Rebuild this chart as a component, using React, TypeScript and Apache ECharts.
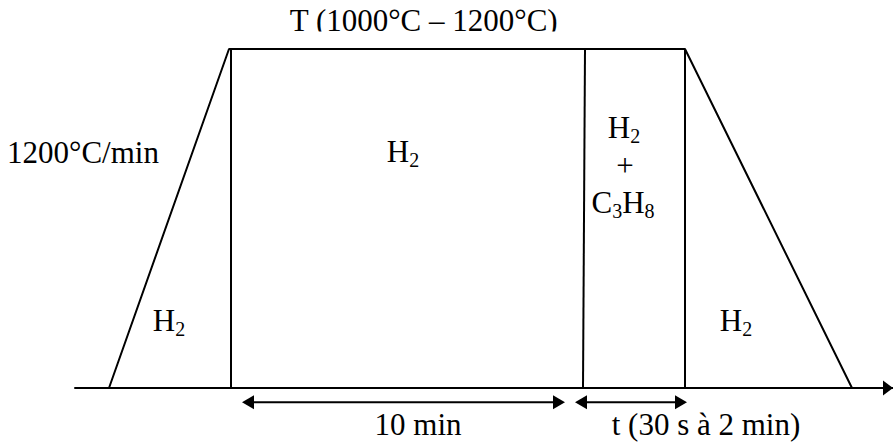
import React, { useEffect, useRef } from "react";
import * as echarts from "echarts";

// Temperature profile (time in arbitrary diagram units, temperature in °C)
const profileTime = [34, 154, 610, 777];
const profileTemp = [0, 1200, 1200, 0];
const plateauTemp = 1200;

// Stage boundaries (vertical lines)
const stageLineBottom = [156, 508, 610];
const stageLineTop = [156, 510, 610];

// Duration arrows
const dimStart = [167, 500];
const dimEnd = [490, 612];
const dimLevel = -50;

// Annotation texts ("_d" marks a subscript digit)
const labelTexts = [
  "T (1000°C – 1200°C)",
  "1200°C/min",
  "H_2",
  "H_2",
  "+",
  "C_3H_8",
  "H_2",
  "H_2",
  "10 min",
  "t (30 s à 2 min)",
];
const labelTime = [349, 8, 328, 549, 550, 548, 94, 661, 343, 631];
const labelTemp = [1264, 797, 800, 885, 751, 620, 202, 202, -166, -166];

const FONT = '"Liberation Serif", "Times New Roman", serif';
const FS = 31;
const SUB = 20;

type Part = { t: string; sub: boolean };
function parseParts(s: string): Part[] {
  const parts: Part[] = [];
  const re = /_(\d)/g;
  let last = 0;
  let m: RegExpExecArray | null;
  while ((m = re.exec(s))) {
    if (m.index > last) parts.push({ t: s.slice(last, m.index), sub: false });
    parts.push({ t: m[1], sub: true });
    last = m.index + m[0].length;
  }
  if (last < s.length) parts.push({ t: s.slice(last), sub: false });
  return parts;
}

let ctx: CanvasRenderingContext2D | null = null;
function measure(t: string, size: number) {
  if (!ctx) ctx = document.createElement("canvas").getContext("2d");
  ctx!.font = `${size}px ${FONT}`;
  return ctx!.measureText(t).width;
}

export default function App() {
  const ref = useRef<HTMLDivElement>(null);
  useEffect(() => {
    if (!ref.current) return;
    const chart = echarts.init(ref.current, undefined, { renderer: "svg" });
    const lineStyle = { color: "#000", width: 2 };
    const option: any = {
      animation: false,
      backgroundColor: "#fff",
      grid: { left: 75, right: 0, top: 49, bottom: 12.625 },
      xAxis: {
        type: "value",
        min: 0,
        max: 818,
        axisLine: {
          show: true,
          onZero: true,
          lineStyle: { color: "#000", width: 2 },
          symbol: ["none", "triangle"],
          symbolSize: [15, 10],
          symbolOffset: [0, -5],
        },
        axisTick: { show: false },
        axisLabel: { show: false },
        splitLine: { show: false },
      },
      yAxis: {
        type: "value",
        min: -150,
        max: 1200,
        show: false,
        splitLine: { show: false },
      },
      series: [
        {
          type: "line",
          data: profileTime.map((t, i) => [t, profileTemp[i]]),
          symbol: "none",
          lineStyle,
          silent: true,
        },
        ...stageLineBottom.map((b, i) => ({
          type: "line",
          data: [
            [b, 0],
            [stageLineTop[i], plateauTemp],
          ],
          symbol: "none",
          lineStyle,
          silent: true,
        })),
        {
          type: "custom",
          silent: true,
          encode: { x: [0, 1], y: 2 },
          data: dimStart.map((s, i) => [s, dimEnd[i], dimLevel]),
          renderItem: (params: any, api: any) => {
            const a = api.coord([api.value(0), api.value(2)]);
            const b = api.coord([api.value(1), api.value(2)]);
            const L = 12;
            const H = 7;
            return {
              type: "group",
              children: [
                {
                  type: "line",
                  shape: { x1: a[0] + L - 1, y1: a[1], x2: b[0] - L + 1, y2: b[1] },
                  style: { stroke: "#000", lineWidth: 2 },
                },
                {
                  type: "polygon",
                  shape: { points: [[a[0], a[1]], [a[0] + L, a[1] - H], [a[0] + L, a[1] + H]] },
                  style: { fill: "#000" },
                },
                {
                  type: "polygon",
                  shape: { points: [[b[0], b[1]], [b[0] - L, b[1] - H], [b[0] - L, b[1] + H]] },
                  style: { fill: "#000" },
                },
              ],
            };
          },
        },
        {
          type: "custom",
          silent: true,
          encode: { x: 0, y: 1 },
          data: labelTime.map((t, i) => [t, labelTemp[i]]),
          renderItem: (params: any, api: any) => {
            const i = params.dataIndex;
            const p = api.coord([api.value(0), api.value(1)]);
            const parts = parseParts(labelTexts[i]);
            const widths = parts.map((pt) => measure(pt.t, pt.sub ? SUB : FS));
            const total = widths.reduce((a, b) => a + b, 0);
            let x = p[0] - total / 2;
            const children = parts.map((pt, k) => {
              const size = pt.sub ? SUB : FS;
              const baseline = p[1] + (pt.sub ? 5 : 0);
              const el: any = {
                type: "text",
                x,
                y: baseline - 0.3375 * size,
                style: {
                  text: pt.t,
                  fontSize: size,
                  fontFamily: FONT,
                  fill: "#000",
                  align: "left",
                  verticalAlign: "middle",
                },
              };
              if (i === 0) {
                el.clipPath = {
                  type: "rect",
                  shape: { x: -10, y: -60, width: total + 40, height: 0.3375 * size + 60.5 },
                };
              }
              x += widths[k];
              return el;
            });
            return { type: "group", children };
          },
        },
      ],
    };
    chart.setOption(option);
    return () => chart.dispose();
  }, []);
  return (
    <div
      ref={ref}
      style={{ position: "absolute", left: 0, top: 0, width: 893, height: 443, background: "#fff" }}
    />
  );
}
